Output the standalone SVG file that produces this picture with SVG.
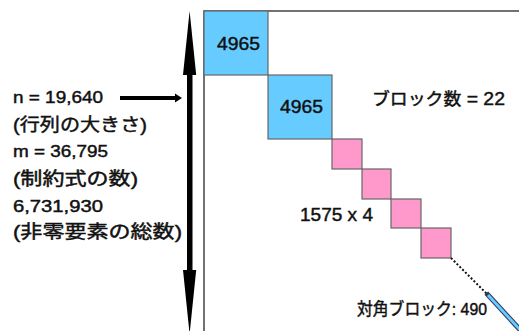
<svg xmlns="http://www.w3.org/2000/svg" width="519" height="331" viewBox="0 0 519 331">
<style>
text{font-family:"Liberation Sans","Noto Sans CJK JP",sans-serif;font-weight:normal;fill:#111;stroke:#111;stroke-width:0.45}
.lat{font-size:16.5px}
.cjk{font-size:18px}
.lbl{font-size:17px}
.big{font-size:18.5px}
.num{font-size:18px}
.blue{fill:#66CCFF;stroke:#666;stroke-width:1.2}
.pink{fill:#FF99CC;stroke:#666;stroke-width:1.2}
</style>
<rect width="519" height="331" fill="#fff"/>
<g id="matrix">
<rect x="204" y="11" width="330" height="340" fill="#fff" stroke="#444" stroke-width="1.5"/>
</g>
<g id="block1"><rect class="blue" x="204" y="11" width="64" height="64"/><text class="num" x="217" y="50" textLength="43" lengthAdjust="spacingAndGlyphs">4965</text></g>
<g id="block2"><rect class="blue" x="268" y="75" width="64" height="64"/><text class="num" x="280" y="113" textLength="43" lengthAdjust="spacingAndGlyphs">4965</text></g>
<g id="block3"><rect class="pink" x="332" y="139" width="30" height="30"/></g>
<g id="block4"><rect class="pink" x="362" y="169" width="29" height="30"/></g>
<g id="block5"><rect class="pink" x="391" y="199" width="30" height="29"/></g>
<g id="block6"><rect class="pink" x="421" y="228" width="30" height="30"/></g>
<g id="connectors">
<line x1="451" y1="258" x2="488" y2="295" stroke="#111" stroke-width="2" stroke-dasharray="2 2"/>
<line x1="488" y1="295" x2="523" y2="333" stroke="#335" stroke-width="5" stroke-linecap="square"/>
<line x1="488" y1="295" x2="523" y2="333" stroke="#66CCFF" stroke-width="3"/>
<rect x="187" y="70" width="5.5" height="205" fill="#000"/>
<polygon points="189.6,11 196.2,75 183,75" fill="#000"/>
<polygon points="189.6,334 196.2,270 183,270" fill="#000"/>
<line x1="120" y1="98" x2="177" y2="98" stroke="#000" stroke-width="4"/>
<polygon points="175,93.5 182,98 175,102.5" fill="#000"/>
</g>
<g id="labels">
<text class="lat" x="13" y="103" textLength="90" lengthAdjust="spacingAndGlyphs">n = 19,640</text>
<text class="cjk" x="13" y="131" textLength="134" lengthAdjust="spacingAndGlyphs">(行列の大きさ)</text>
<text class="lat" x="13" y="157" textLength="95" lengthAdjust="spacingAndGlyphs">m = 36,795</text>
<text class="cjk" x="13" y="185" textLength="125" lengthAdjust="spacingAndGlyphs">(制約式の数)</text>
<text class="lat" x="13" y="212" textLength="90" lengthAdjust="spacingAndGlyphs">6,731,930</text>
<text class="cjk" x="13" y="238" textLength="169" lengthAdjust="spacingAndGlyphs">(非零要素の総数)</text>
<text class="lbl" x="372" y="105" textLength="133" lengthAdjust="spacingAndGlyphs">ブロック数<tspan class="big"> = 22</tspan></text>
<text class="big" x="300" y="221" textLength="73" lengthAdjust="spacingAndGlyphs">1575 x 4</text>
<text class="lbl" x="357" y="315" textLength="130" lengthAdjust="spacingAndGlyphs">対角ブロック: 490</text>
</g>
</svg>
